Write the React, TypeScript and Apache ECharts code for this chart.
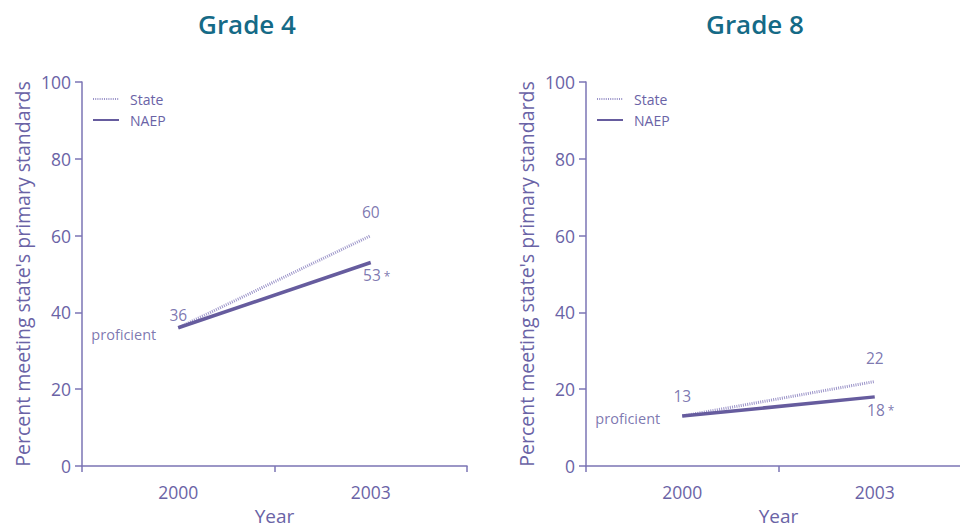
import React, { useEffect, useRef } from "react";
import * as echarts from "echarts";

const years = ["2000", "2003"];
const grade4State = [36, 60];
const grade4Naep = [36, 53];
const grade8State = [13, 22];
const grade8Naep = [13, 18];
const titles = ["Grade 4", "Grade 8"];
const yTicks = [0, 20, 40, 60, 80, 100];

const TXT = "#6a63a6";
const LBL = "#5c559c";
const AXIS = "#7b74b4";
const NAEP_C = "#665c9e";
const STATE_C = "#9a93c8";
const TITLE_C = "#156a86";
const FONT = "'Open Sans', 'Noto Sans', sans-serif";

export default function App() {
  const ref = useRef<HTMLDivElement>(null);
  useEffect(() => {
    const chart = echarts.init(ref.current!, null, { renderer: "svg" });
    const lefts = [82, 586];
    const grids = lefts.map((l) => ({
      left: l,
      top: 82,
      width: 385,
      height: 384,
      outerBoundsMode: "none",
      containLabel: false,
    }));
    const xAxes = lefts.map((_, i) => ({
      type: "category",
      gridIndex: i,
      data: years,
      boundaryGap: true,
      name: "Year",
      nameLocation: "middle",
      nameGap: 40,
      nameTextStyle: { color: TXT, fontSize: 19, fontFamily: FONT },
      axisLine: { lineStyle: { color: AXIS, width: 1.5 } },
      axisTick: { show: true, length: 6, lineStyle: { color: AXIS, width: 1.5 } },
      axisLabel: { color: TXT, fontSize: 17.5, margin: 17, fontFamily: FONT },
    }));
    const yAxes = lefts.map((_, i) => ({
      type: "value",
      gridIndex: i,
      min: 0,
      max: 100,
      interval: 20,
      name: "Percent meeting state's primary standards",
      nameLocation: "middle",
      nameGap: 50,
      nameTextStyle: { color: TXT, fontSize: 19.5, fontFamily: FONT },
      axisLine: { show: true, lineStyle: { color: AXIS, width: 1.5 } },
      axisTick: { show: true, length: 7, lineStyle: { color: AXIS, width: 1.5 } },
      axisLabel: {
        color: TXT,
        fontSize: 17.5,
        margin: 11,
        fontFamily: FONT,
        formatter: (v: number) => (yTicks.includes(v) ? String(v) : ""),
      },
      splitLine: { show: false },
    }));
    const lblBase = { show: true, color: LBL, fontSize: 15.5, fontFamily: FONT };
    const star = {
      rich: {
        n: { color: LBL, fontSize: 15.5, fontFamily: FONT },
        s: { color: LBL, fontSize: 12, fontFamily: FONT, padding: [2, 0, 0, 3] },
      },
    };
    const mkSeries = (
      gi: number,
      state: number[],
      naep: number[],
      startDist: number,
      endDist: number,
      profOffset: number
    ) => [
      {
        name: "State",
        type: "line",
        xAxisIndex: gi,
        yAxisIndex: gi,
        symbol: "none",
        lineStyle: { color: STATE_C, width: 3, type: [1, 1.2] },
        itemStyle: { color: STATE_C },
        z: 2,
        data: state,
      },
      {
        name: "NAEP",
        type: "line",
        xAxisIndex: gi,
        yAxisIndex: gi,
        symbol: "none",
        lineStyle: { color: NAEP_C, width: 3.5 },
        itemStyle: { color: NAEP_C },
        z: 3,
        data: naep,
      },
      {
        name: "labels" + gi,
        type: "scatter",
        xAxisIndex: gi,
        yAxisIndex: gi,
        symbolSize: 0.01,
        itemStyle: { color: LBL },
        silent: true,
        z: 4,
        data: [
          { value: [years[0], state[0]], label: { ...lblBase, position: "top", distance: startDist, formatter: String(state[0]) } },
          { value: [years[1], state[1]], label: { ...lblBase, position: "top", distance: endDist, formatter: String(state[1]) } },
          {
            value: [years[0], naep[0]],
            label: { ...lblBase, fontSize: 14.5, position: "left", distance: 22, offset: [0, profOffset], formatter: "proficient" },
          },
          {
            value: [years[1], naep[1]],
            label: { ...lblBase, ...star, position: "bottom", distance: 5, offset: [6, 0], formatter: `{n|${naep[1]}}{s|*}` },
          },
        ],
      },
    ];
    chart.setOption({
      animation: false,
      title: titles.map((t, i) => ({
        text: t,
        left: i === 0 ? 247 : 755,
        top: 11,
        padding: 0,
        textAlign: "center",
        textStyle: { color: TITLE_C, fontSize: 26, fontWeight: 600, fontFamily: FONT },
      })),
      legend: lefts.map((l) => ({
        orient: "vertical",
        left: l + 5,
        top: 87,
        itemWidth: 26,
        itemHeight: 14,
        itemGap: 7,
        itemStyle: { opacity: 0 },
        textStyle: { color: TXT, fontSize: 14, fontFamily: FONT, padding: [0, 0, 0, 6] },
        data: ["State", "NAEP"],
      })),
      grid: grids,
      xAxis: xAxes,
      yAxis: yAxes,
      series: [
        ...mkSeries(0, grade4State, grade4Naep, 5, 16, 7),
        ...mkSeries(1, grade8State, grade8Naep, 12, 16, 2),
      ],
    });
    return () => chart.dispose();
  }, []);
  return <div ref={ref} style={{ width: 960, height: 527, position: "absolute", left: 0, top: 0 }} />;
}
